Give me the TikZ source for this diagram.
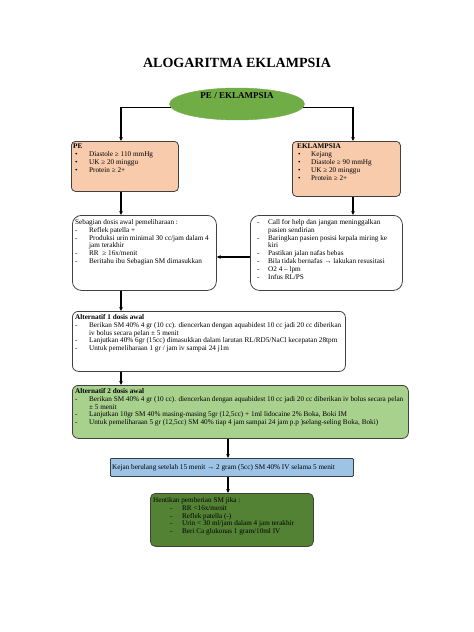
\documentclass[tikz,border=0pt]{standalone}
\usepackage{fontspec}
\setmainfont{Liberation Serif}
\usetikzlibrary{arrows.meta,shapes.geometric}
\definecolor{ellg}{HTML}{70AD47}
\definecolor{peach}{HTML}{F8CBAD}
\definecolor{lgreen}{HTML}{A9D18E}
\definecolor{lblue}{HTML}{9DC3E6}
\definecolor{dgreen}{HTML}{548235}
\definecolor{bord}{HTML}{404040}
\newcommand\mbul[1]{\makebox[#1][l]{•}}
\newcommand\mdsh[1]{\makebox[#1][l]{-}}
\begin{document}
\begin{tikzpicture}[x=1pt,y=-1pt,
  box/.style={draw=bord, line width=0.8pt, rounded corners=6pt, anchor=north west, inner sep=0pt},
  txt/.style={anchor=north west, inner sep=0pt, align=left, font=\fontsize{7.2}{7.9}\selectfont},
  conn/.style={draw=black, line width=1.1pt, -{Stealth[length=4pt,width=3.6pt]}}]
\path[use as bounding box] (0,0) rectangle (474,632);

% title
\node[inner sep=0pt, font=\fontsize{14}{16}\selectfont\bfseries] (title) at (237,63) {ALOGARITMA EKLAMPSIA};

% ellipse
\node[ellipse, fill=ellg, draw=ellg, minimum width=135pt, minimum height=32pt, inner sep=0pt] (ell) at (237,104) {};
\node[inner sep=0pt, font=\fontsize{9}{10}\selectfont\bfseries] (elltxt) at (237,96) {PE / EKLAMPSIA};

% boxes
\node[box, fill=peach, rounded corners=4pt, minimum width=107pt, minimum height=50pt] (pe) at (71,141) {};
\node[box, fill=peach, rounded corners=4pt, minimum width=108pt, minimum height=55pt] (ekl) at (292,141) {};
\node[box, rounded corners=9pt, minimum width=144pt, minimum height=75pt] (seb) at (72,215) {};
\node[box, rounded corners=9pt, minimum width=152pt, minimum height=75pt] (rb) at (250,215) {};
\node[box, minimum width=273pt, minimum height=60pt] (a1) at (72,311) {};
\node[box, fill=lgreen, minimum width=336pt, minimum height=53pt] (a2) at (72,385) {};
\node[box, fill=lblue, rounded corners=1pt, draw=bord, minimum width=243pt, minimum height=18pt] (blue) at (110,458) {};
\node[box, fill=dgreen, rounded corners=5pt, minimum width=163pt, minimum height=53pt] (dg) at (150,493) {};

% texts
\node[txt] (pet) at ([xshift=2pt,yshift=-3pt]pe.north west) {\textbf{PE}\\
\hspace*{2pt}\mbul{14pt}Diastole ≥ 110 mmHg\\
\hspace*{2pt}\mbul{14pt}UK ≥ 20 minggu\\
\hspace*{2pt}\mbul{14pt}Protein ≥ 2+};

\node[txt] (eklt) at ([xshift=5pt,yshift=-3pt]ekl.north west) {\textbf{EKLAMPSIA}\\
\hspace*{1pt}\mbul{13pt}Kejang\\
\hspace*{1pt}\mbul{13pt}Diastole ≥ 90 mmHg\\
\hspace*{1pt}\mbul{13pt}UK ≥ 20 minggu\\
\hspace*{1pt}\mbul{13pt}Protein ≥ 2+};

\node[txt] (sebt) at ([xshift=3pt,yshift=-4pt]seb.north west) {Sebagian dosis awal pemeliharaan :\\
\mdsh{14pt}Reflek patella +\\
\mdsh{14pt}Produksi urin minimal 30 cc/jam dalam 4\\
\hspace*{14pt}jam terakhir\\
\mdsh{14pt}RR \ ≥ 16x/menit\\
\mdsh{14pt}Beritahu ibu Sebagian SM dimasukkan};

\node[txt] (rbt) at ([xshift=7pt,yshift=-4pt]rb.north west) {\mdsh{11pt}Call for help dan jangan meninggalkan\\
\hspace*{11pt}pasien sendirian\\
\mdsh{11pt}Baringkan pasien posisi kepala miring ke\\
\hspace*{11pt}kiri\\
\mdsh{11pt}Pastikan jalan nafas bebas\\
\mdsh{11pt}Bila tidak bernafas → lakukan resusitasi\\
\mdsh{11pt}O2 4 – lpm\\
\mdsh{11pt}Infus RL/PS};

\node[txt] (a1t) at ([xshift=3pt,yshift=-3pt]a1.north west) {\textbf{Alternatif 1 dosis awal}\\
\mdsh{14pt}Berikan SM 40\% 4 gr (10 cc). diencerkan dengan aquabidest 10 cc jadi 20 cc diberikan\\
\hspace*{14pt}iv bolus secara pelan ± 5 menit\\
\mdsh{14pt}Lanjutkan 40\% 6gr (15cc) dimasukkan dalam larutan RL/RD5/NaCl kecepatan 28tpm\\
\mdsh{14pt}Untuk pemeliharaan 1 gr / jam iv sampai 24 j1m};

\node[txt] (a2t) at ([xshift=3pt,yshift=-3pt]a2.north west) {\textbf{Alternatif 2 dosis awal}\\
\mdsh{14pt}Berikan SM 40\% 4 gr (10 cc). diencerkan dengan aquabidest 10 cc jadi 20 cc diberikan iv bolus secara pelan\\
\hspace*{14pt}± 5 menit\\
\mdsh{14pt}Lanjutkan 10gr SM 40\% masing-masing 5gr (12,5cc) + 1ml lidocaine 2\% Boka, Boki IM\\
\mdsh{14pt}Untuk pemeliharaan 5 gr (12,5cc) SM 40\% tiap 4 jam sampai 24 jam p.p )selang-seling Boka, Boki)};

\node[txt, anchor=west] (bluet) at ([xshift=2pt]blue.west) {Kejan berulang setelah 15 menit → 2 gram (5cc) SM 40\% IV selama 5 menit};

\node[txt] (dgt) at ([xshift=3pt,yshift=-4pt]dg.north west) {Hentikan pemberian SM jika :\\
\hspace*{17pt}\mdsh{12pt}RR <16x/menit\\
\hspace*{17pt}\mdsh{12pt}Reflek patella (-)\\
\hspace*{17pt}\mdsh{12pt}Urin < 30 ml/jam dalam 4 jam terakhir\\
\hspace*{17pt}\mdsh{12pt}Beri Ca glukonas 1 gram/10ml IV};

% connectors
\coordinate (cl) at (121,0);
\coordinate (cr) at (353,0);
\coordinate (cm) at (228,0);
\coordinate (ay) at (0,257);
\draw[conn] (ell.183.5) -| (cl |- pe.north);
\draw[conn] (ell.-3.5) -| (cr |- ekl.north);
\draw[conn] (cl |- pe.south) -- (cl |- seb.north);
\draw[conn] (cr |- ekl.south) -- (cr |- rb.north);
\draw[conn] (rb.west |- ay) -- (seb.east |- ay);
\draw[conn] (cl |- seb.south) -- (cl |- a1.north);
\draw[conn] (cl |- a1.south) -- (cl |- a2.north);
\draw[conn] (cm |- a2.south) -- (cm |- blue.north);
\draw[conn] (cm |- blue.south) -- (cm |- dg.north);
\end{tikzpicture}
\end{document}
